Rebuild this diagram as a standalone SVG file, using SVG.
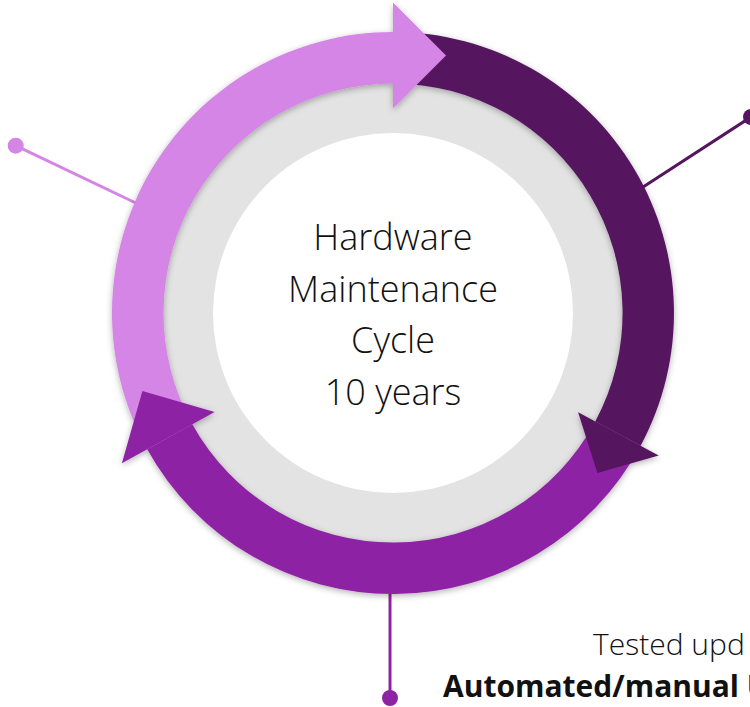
<svg xmlns="http://www.w3.org/2000/svg" width="750" height="707" viewBox="0 0 750 707">
  <defs>
    <filter id="soft" x="-10%" y="-10%" width="120%" height="120%">
      <feDropShadow dx="0" dy="2" stdDeviation="3" flood-color="#000" flood-opacity="0.3"/>
    </filter>
    <style>
      .pink { fill: #D485E5; }
      .dark { fill: #55155F; }
      .mid { fill: #8E22A4; }
      .lead { fill: none; stroke-width: 3; }
      .center-text { font-family: "Open Sans", "Liberation Sans", sans-serif; font-weight: 300; font-size: 36px; fill: #111; text-anchor: middle; }
      .note { font-family: "Open Sans", "Liberation Sans", sans-serif; font-size: 30px; fill: #111; }
    </style>
  </defs>

  <rect width="750" height="707" fill="#fff"/>

  <!-- leader lines with end dots -->
  <g id="connectors">
    <line class="lead" x1="15.7" y1="145.7" x2="140" y2="205" stroke="#D485E5"/>
    <circle cx="15.7" cy="145.7" r="8" class="pink"/>
    <line class="lead" x1="640" y1="189" x2="751" y2="117" stroke="#55155F"/>
    <circle cx="751" cy="117" r="8" class="dark"/>
    <line class="lead" x1="390" y1="590" x2="390" y2="698" stroke="#8E22A4"/>
    <circle cx="390" cy="698" r="8" class="mid"/>
  </g>

  <!-- hub: grey ring and white disc with title -->
  <g id="hub">
    <circle cx="393" cy="313" r="240" fill="#E3E3E3"/>
    <circle cx="393" cy="313" r="180" fill="#fff"/>
    <text class="center-text" x="393" y="250">Hardware</text>
    <text class="center-text" x="393" y="301.5">Maintenance</text>
    <text class="center-text" x="393" y="353">Cycle</text>
    <text class="center-text" x="393" y="404.5">10 years</text>
  </g>

  <!-- cycle arrows: bodies first, heads on top -->
  <g id="cycle" filter="url(#soft)">
    <g id="arrow-pink-body">
      <path class="pink" d="M147.2 449.2 A281 281 0 0 1 393 32 L393 83.5 A229.5 229.5 0 0 0 192.3 424.3 Z"/>
    </g>
    <g id="arrow-dark-body">
      <path class="dark" d="M393 32 A281 281 0 0 1 640.6 445.8 L595.3 421.5 A229.5 229.5 0 0 0 393 83.5 Z"/>
    </g>
    <g id="arrow-mid-body">
      <path class="mid" d="M640.6 445.8 A281 281 0 0 1 147.2 449.2 L192.3 424.3 A229.5 229.5 0 0 0 595.3 421.5 Z"/>
    </g>
    <g id="arrow-pink-head">
      <polygon class="pink" points="393,2.5 446,55.5 393,108.5"/>
    </g>
    <g id="arrow-dark-head">
      <polygon class="dark" points="578.1,412.2 658.7,455.5 597.4,473"/>
    </g>
    <g id="arrow-mid-head">
      <polygon class="mid" points="121.9,463.3 214.6,411.9 142.4,391"/>
    </g>
  </g>

  <!-- caption under the cycle -->
  <g id="caption">
    <text class="note" x="593" y="655" font-weight="300">Tested upd</text>
    <text class="note" x="443" y="697" font-weight="700">Automated/manual U</text>
  </g>
</svg>
